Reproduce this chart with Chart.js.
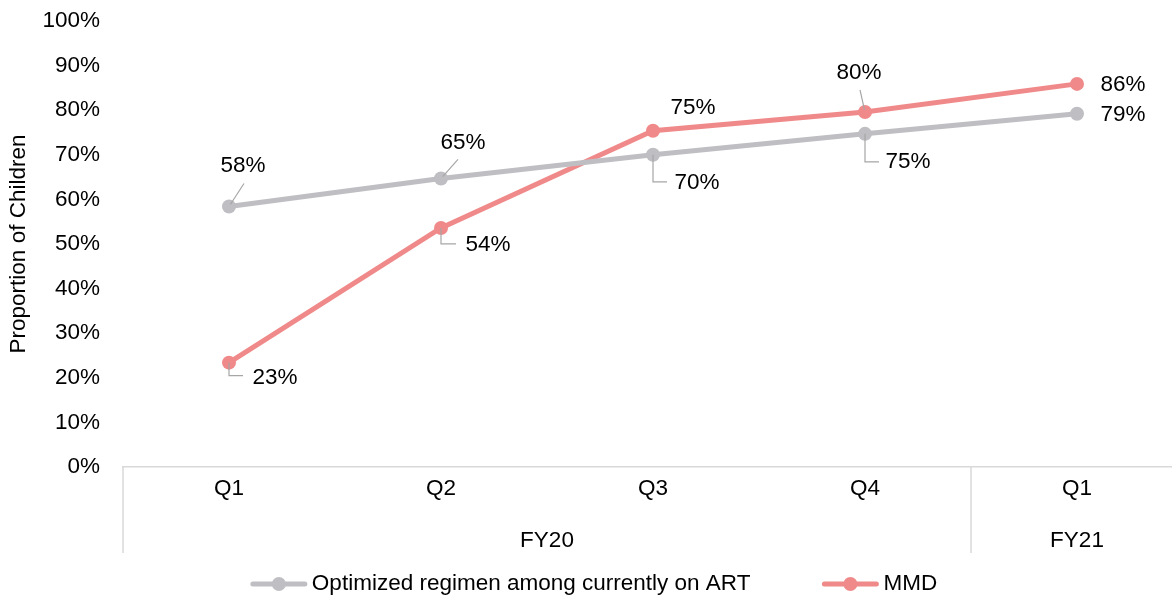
<!DOCTYPE html>
<html>
<head>
<meta charset="utf-8">
<script src="https://cdn.jsdelivr.net/npm/chart.js@4"></script>
<style>
  html, body { margin: 0; padding: 0; background: #fff; overflow: hidden; }
  #wrap { width: 1172px; height: 601px; overflow: hidden; }
  #wrap canvas { display: block; }
</style>
</head>
<body>
<div id="wrap"><canvas id="lineChart" width="1190" height="601"></canvas></div>
<script>
const quarters = ['Q1', 'Q2', 'Q3', 'Q4', 'Q1'];
const fiscalYears = ['FY20', 'FY20', 'FY20', 'FY20', 'FY21'];
const optimizedRegimen = [58.4, 64.7, 70.0, 74.7, 79.2];
const mmd = [23.4, 53.6, 75.4, 79.6, 85.9];
const yTicks = [0, 10, 20, 30, 40, 50, 60, 70, 80, 90, 100];

const GREY = '#bfbec3';
const RED = '#f08a8a';
const FONT = '"Liberation Sans", Arial, sans-serif';
const FONT_SIZE = 22.5;

// where each value label sits relative to its point, and how the callout line runs
const greyLabels = [
  { dx: 14, dy: -41, leader: 'diag', lx: 15, ly: -23 },
  { dx: 22, dy: -36, leader: 'diag', lx: 17, ly: -19 },
  { dx: 44, dy: 28, leader: 'elbow', lx: 14, ly: 27 },
  { dx: 43, dy: 28, leader: 'elbow', lx: 14, ly: 28 },
  { dx: 46, dy: 1, leader: 'none' }
];
const redLabels = [
  { dx: 46, dy: 15, leader: 'elbow', lx: 14, ly: 13 },
  { dx: 47, dy: 17, leader: 'elbow', lx: 15, ly: 16 },
  { dx: 40, dy: -23, leader: 'none' },
  { dx: -6, dy: -39, leader: 'diag', lx: -5, ly: -22 },
  { dx: 46, dy: 1, leader: 'none' }
];

const valueLabels = {
  id: 'valueLabels',
  afterDatasetsDraw(chart) {
    const ctx = chart.ctx;
    const sets = [greyLabels, redLabels];
    ctx.save();
    ctx.font = FONT_SIZE + 'px ' + FONT;
    ctx.textAlign = 'center';
    ctx.textBaseline = 'middle';
    chart.data.datasets.forEach((ds, i) => {
      const meta = chart.getDatasetMeta(i);
      meta.data.forEach((pt, j) => {
        const cfg = sets[i][j];
        const x = pt.x, y = pt.y;
        ctx.strokeStyle = '#a6a6a6';
        ctx.lineWidth = 1.2;
        if (cfg.leader === 'diag') {
          ctx.beginPath();
          ctx.moveTo(x + cfg.lx * 0.1, y + cfg.ly * 0.1);
          ctx.lineTo(x + cfg.lx, y + cfg.ly);
          ctx.stroke();
        } else if (cfg.leader === 'elbow') {
          ctx.beginPath();
          ctx.moveTo(x, y);
          ctx.lineTo(x, y + cfg.ly);
          ctx.lineTo(x + cfg.lx, y + cfg.ly);
          ctx.stroke();
        }
        ctx.fillStyle = '#000';
        ctx.fillText(Math.round(ds.data[j]) + '%', x + cfg.dx, y + cfg.dy);
      });
    });
    ctx.restore();
  }
};

// fiscal year row under the quarter labels, with its dividers
const yearGroups = {
  id: 'yearGroups',
  afterDraw(chart) {
    const ctx = chart.ctx;
    const xs = chart.scales.x;
    const area = chart.chartArea;
    const step = xs.getPixelForValue(1) - xs.getPixelForValue(0);
    const bottom = area.bottom + 86;
    const groups = [];
    fiscalYears.forEach((fy, i) => {
      const last = groups[groups.length - 1];
      if (last && last.name === fy) last.end = i;
      else groups.push({ name: fy, start: i, end: i });
    });
    ctx.save();
    ctx.strokeStyle = '#d9d9d9';
    ctx.lineWidth = 1.5;
    ctx.font = FONT_SIZE + 'px ' + FONT;
    ctx.fillStyle = '#000';
    ctx.textAlign = 'center';
    ctx.textBaseline = 'middle';
    groups.forEach(gr => {
      const left = xs.getPixelForValue(gr.start) - step / 2;
      const right = xs.getPixelForValue(gr.end) + step / 2;
      ctx.beginPath();
      ctx.moveTo(left, area.bottom);
      ctx.lineTo(left, bottom);
      ctx.stroke();
      ctx.fillText(gr.name, (left + right) / 2, area.bottom + 74);
    });
    ctx.restore();
  }
};

// legend: line-with-dot swatch followed by the series name
const lineLegend = {
  id: 'lineLegend',
  afterDraw(chart) {
    const ctx = chart.ctx;
    const swatch = 56, gapText = 5, gapItem = 72, y = 584;
    ctx.save();
    ctx.font = FONT_SIZE + 'px ' + FONT;
    const items = chart.data.datasets.map(ds => ({
      ds, w: swatch + gapText + ctx.measureText(ds.label).width
    }));
    const total = items.reduce((s, it) => s + it.w, 0) + gapItem * (items.length - 1);
    let x = chart.width / 2 - 1 - total / 2;
    items.forEach(it => {
      const c = it.ds.borderColor;
      ctx.strokeStyle = c;
      ctx.lineWidth = 5;
      ctx.lineCap = 'round';
      ctx.beginPath();
      ctx.moveTo(x + 2, y);
      ctx.lineTo(x + swatch - 2, y);
      ctx.stroke();
      ctx.fillStyle = c;
      ctx.beginPath();
      ctx.arc(x + swatch / 2, y, 7, 0, Math.PI * 2);
      ctx.fill();
      ctx.fillStyle = '#000';
      ctx.textAlign = 'left';
      ctx.textBaseline = 'middle';
      ctx.fillText(it.ds.label, x + swatch + gapText, y);
      x += it.w + gapItem;
    });
    ctx.restore();
  }
};

const ctx = document.getElementById('lineChart').getContext('2d');
new Chart(ctx, {
  type: 'line',
  data: {
    labels: quarters,
    datasets: [
      {
        label: 'Optimized regimen among currently on ART',
        data: optimizedRegimen,
        borderColor: GREY,
        backgroundColor: GREY,
        borderWidth: 5,
        pointRadius: 7,
        pointHoverRadius: 7,
        pointBorderWidth: 0,
        tension: 0
      },
      {
        label: 'MMD',
        data: mmd,
        borderColor: RED,
        backgroundColor: RED,
        borderWidth: 5,
        pointRadius: 7,
        pointHoverRadius: 7,
        pointBorderWidth: 0,
        tension: 0
      }
    ]
  },
  options: {
    responsive: false,
    animation: false,
    layout: { padding: { top: 21, bottom: 48, left: 0, right: 0 } },
    plugins: {
      tooltip: { enabled: false },
      legend: { display: false }
    },
    scales: {
      x: {
        offset: true,
        grid: { display: false, offset: true },
        border: { color: '#d9d9d9', width: 1.5 },
        ticks: {
          color: '#000',
          font: { family: FONT, size: FONT_SIZE },
          padding: 0,
          maxRotation: 0
        },
        afterFit(scale) { scale.height = 86; }
      },
      y: {
        min: 0,
        max: 100,
        grid: { display: false },
        border: { display: false },
        afterBuildTicks(scale) {
          scale.ticks = yTicks.map(v => ({ value: v }));
        },
        ticks: {
          color: '#000',
          font: { family: FONT, size: FONT_SIZE },
          padding: 15,
          callback: v => v + '%'
        },
        title: {
          display: true,
          text: 'Proportion of Children',
          color: '#000',
          font: { family: FONT, size: FONT_SIZE },
          padding: { top: 5, bottom: 0 }
        },
        afterFit(scale) {
          scale.width = 123;
          scale.paddingTop = 0;
          scale.paddingBottom = 0;
        }
      }
    }
  },
  plugins: [valueLabels, yearGroups, lineLegend]
});
</script>
</body>
</html>
